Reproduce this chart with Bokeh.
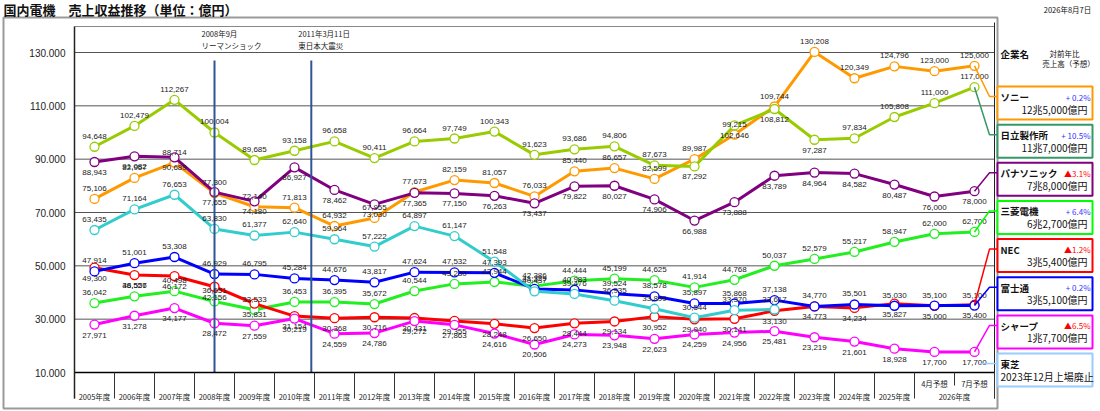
from bokeh.plotting import figure
from bokeh.models import Range1d, LinearAxis, FixedTicker, ColumnDataSource
from bokeh.core.properties import value
from bokeh.embed import file_html
from bokeh.resources import INLINE

# ---- data (億円) ----
categories = ["2005年度", "2006年度", "2007年度", "2008年度", "2009年度", "2010年度", "2011年度",
              "2012年度", "2013年度", "2014年度", "2015年度", "2016年度", "2017年度", "2018年度",
              "2019年度", "2020年度", "2021年度", "2022年度", "2023年度", "2024年度", "2025年度"]
forecast_labels = ["4月予想", "7月予想"]
forecast_year = "2026年度"

sony = [75106, 82957, 88714, 77300, 72140, 71813, 64932, 67955, 77673, 82159, 81057, 76033,
        85440, 86657, 82599, 89987, 99215, 109744, 130208, 120349, 124796, 123000, 125000]
hitachi = [94648, 102479, 112267, 100004, 89685, 93158, 96658, 90411, 96664, 97749, 100343, 91623,
           93686, 94806, 87673, 87292, 102646, 108812, 97287, 97834, 105808, 111000, 117000]
panasonic = [88943, 91082, 90689, 77655, 74180, 86927, 78462, 73030, 77365, 77150, 76263, 73437,
             79822, 80027, 74906, 66988, 73888, 83789, 84964, 84582, 80487, 76000, 78000]
mitsubishi = [36042, 38557, 40498, 36651, 33533, 36453, 36395, 35672, 40544, 43230, 43944, 42386,
              44444, 45199, 44625, 41914, 44768, 50037, 52579, 55217, 58947, 62000, 62700]
nec = [49300, 46526, 46172, 42156, 35831, 31154, 30368, 30716, 30431, 29355, 28248, 26650,
       28444, 29134, 30952, 29940, 30141, 33130, 34773, 34234, 35827, 35000, 35400]
fujitsu = [47914, 51001, 53308, 46929, 46795, 45284, 44676, 43817, 47624, 47532, 47393, 41329,
           40983, 39524, 38578, 35897, 35868, 37138, 34770, 35501, 35030, 35100, 35100]
sharp = [27971, 31278, 34177, 28472, 27559, 30219, 24559, 24786, 29272, 27863, 24616, 20506,
         24273, 23948, 22623, 24259, 24956, 25481, 23219, 21601, 18928, 17700, 17700]
toshiba = [63435, 71164, 76653, 63830, 61377, 62640, 59964, 57222, 64897, 61147, 51548, 40437,
           39476, 36935, 33899, 30544, 33370, 33617]

companies = ["ソニー", "日立製作所", "パナソニック", "三菱電機", "NEC", "富士通", "シャープ", "東芝"]
values = [sony, hitachi, panasonic, mitsubishi, nec, fujitsu, sharp, toshiba]
forecast_text = ["12兆5,000億円", "11兆7,000億円", "7兆8,000億円", "6兆2,700億円",
                 "3兆5,400億円", "3兆5,100億円", "1兆7,700億円", "2023年12月上場廃止"]
yoy_text = ["+ 0.2%", "+ 10.5%", "▲3.1%", "+ 6.4%", "▲1.2%", "+ 0.2%", "▲6.5%", ""]

y_ticks = [10000, 30000, 50000, 70000, 90000, 110000, 130000]
y_tick_labels = ["10.000", "30.000", "50.000", "70.000", "90.000", "110.000", "130.000"]

events_x = [3.0, 5.42]
events_text = [("2008年9月", "リーマンショック"), ("2011年3月11日", "東日本大震災")]

# ---- style ----
line_color = {"ソニー": "#FF9900", "日立製作所": "#99CC00", "パナソニック": "#800080",
              "三菱電機": "#22EE22", "NEC": "#FF0000", "富士通": "#0000FF",
              "シャープ": "#FF00FF", "東芝": "#33CCCC"}
box_color = {"ソニー": "#FF9900", "日立製作所": "#339966", "パナソニック": "#800080",
             "三菱電機": "#00FF00", "NEC": "#FF0000", "富士通": "#0000FF",
             "シャープ": "#FF00FF", "東芝": "#99CCFF"}
label_side = {"ソニー": -1, "日立製作所": -1, "パナソニック": 1, "三菱電機": -1,
              "NEC": 1, "富士通": -1, "シャープ": 1, "東芝": -1}
label_flip = {"日立製作所": [15, 16, 17, 18]}

JP = value("Noto Sans CJK JP")
NUM = value("Liberation Sans")

W, H = 1100, 411


def px_x(px):
    return (px - 94) / 40.0


def px_y(py):
    return 10000 + (372 - py) * 375.0


p = figure(width=W, height=H, x_range=Range1d(px_x(0), px_x(W)), y_range=Range1d(px_y(H), px_y(0)),
           x_axis_type=None, y_axis_type=None, toolbar_location=None, tools="",
           output_backend="svg", min_border=0)
p.outline_line_color = None
p.background_fill_color = "white"
p.border_fill_color = "white"

n_all = len(categories) + len(forecast_labels)
left, right = -0.5, n_all - 0.5
y_bottom_px = 398

# outer frame
p.quad(left=[px_x(3)], right=[px_x(997)], top=[px_y(17)], bottom=[px_y(408)],
       fill_color=None, line_color="#9a9a9a", line_width=2)

# grid lines and plot borders
p.segment(x0=left, x1=right, y0=y_ticks[1:], y1=y_ticks[1:], line_color="#555555", line_width=1)
p.segment(x0=[left], x1=[right], y0=[px_y(26)], y1=[px_y(26)], line_color="#888888", line_width=1)
p.segment(x0=[right], x1=[right], y0=[px_y(y_bottom_px)], y1=[px_y(22)], line_color="#222222",
          line_width=1)

# y axis
yaxis = LinearAxis(fixed_location=left, bounds=(px_y(y_bottom_px), px_y(26)),
                   ticker=FixedTicker(ticks=y_ticks),
                   major_label_overrides=dict(zip(y_ticks, y_tick_labels)),
                   major_tick_out=0, major_tick_in=0, minor_tick_out=0, minor_tick_in=0,
                   major_label_standoff=9, axis_line_color="#222222", axis_line_width=1.5,
                   major_label_text_font="Liberation Sans", major_label_text_font_size="10px",
                   major_label_text_color="#222222")
p.add_layout(yaxis, "left")

# x axis: separators
bounds_ticks = [i - 0.5 for i in range(len(categories) + 1)] + [right]
sep = LinearAxis(fixed_location=y_ticks[0], bounds=(left, right),
                 ticker=FixedTicker(ticks=bounds_ticks, minor_ticks=[len(categories) + 0.5]),
                 major_tick_out=26, major_tick_in=0, minor_tick_out=13, minor_tick_in=0,
                 major_tick_line_color="#333333", minor_tick_line_color="#333333",
                 axis_line_color="#000000", axis_line_width=1.5, major_label_text_color=None)
p.add_layout(sep, "below")

fc_ticks = [len(categories) + i for i in range(len(forecast_labels))]
fc_axis = LinearAxis(fixed_location=y_ticks[0], ticker=FixedTicker(ticks=fc_ticks),
                     major_label_overrides=dict(zip(fc_ticks, forecast_labels)),
                     major_tick_out=0, major_tick_in=0, minor_tick_out=0, minor_tick_in=0,
                     axis_line_color=None, major_label_standoff=5,
                     major_label_text_font="Noto Sans CJK JP", major_label_text_font_size="7.5px",
                     major_label_text_color="#222222")
p.add_layout(fc_axis, "below")

yr_ticks = list(range(len(categories))) + [sum(fc_ticks) / len(fc_ticks)]
yr_axis = LinearAxis(fixed_location=y_ticks[0], ticker=FixedTicker(ticks=yr_ticks),
                     major_label_overrides=dict(zip(yr_ticks, categories + [forecast_year])),
                     major_tick_out=0, major_tick_in=0, minor_tick_out=0, minor_tick_in=0,
                     axis_line_color=None, major_label_standoff=18,
                     major_label_text_font="Noto Sans CJK JP", major_label_text_font_size="7.5px",
                     major_label_text_color="#222222")
p.add_layout(yr_axis, "below")

# series
label_sources = []
for name, vals in zip(companies, values):
    xs = list(range(len(vals)))
    col = line_color[name]
    p.line(xs, vals, line_color=col, line_width=3)
    p.scatter(xs, vals, marker="circle", size=9, fill_color="white", line_color=col, line_width=1.3)
    dys = []
    for i in xs:
        side = label_side[name]
        if i in label_flip.get(name, []):
            side = -side
        dys.append(10.5 * side)
    label_sources.append(ColumnDataSource(dict(x=xs, y=vals, t=[f"{v:,}" for v in vals], dy=dys)))

# events
p.segment(x0=events_x, x1=events_x, y0=y_ticks[0], y1=px_y(60), line_color="#2F5597", line_width=2)
for ex, (t1, t2) in zip(events_x, events_text):
    p.text(x=[ex], y=[px_y(33)], text=[t1], x_offset=-13, text_font=JP, text_font_size="7.5px",
           text_baseline="middle", text_color="#222222")
    p.text(x=[ex], y=[px_y(45)], text=[t2], x_offset=-13, text_font=JP, text_font_size="7.5px",
           text_baseline="middle", text_color="#222222")

# data labels
for src in label_sources:
    p.text(x="x", y="y", text="t", y_offset="dy", source=src, text_font=NUM, text_font_size="8px",
           text_align="center", text_baseline="middle", text_color="#1a1a1a")

# connectors and legend boxes
box_top0, box_pitch, box_h = 86, 38.15, 33
box_l, box_r = 997, 1092
for k, name in enumerate(companies):
    top = box_top0 + k * box_pitch
    cy = top + 10
    vals = values[k]
    if len(vals) == n_all:
        cx = [n_all - 1, px_x(989), px_x(box_l)]
        cys = [vals[-1], px_y(cy), px_y(cy)]
    else:
        cx = [px_x(980), px_x(box_l)]
        cys = [px_y(cy), px_y(cy)]
    p.line(cx, cys, line_color=box_color[name], line_width=1.5)
    p.quad(left=[px_x(box_l)], right=[px_x(box_r)], top=[px_y(top)], bottom=[px_y(top + box_h)],
           fill_color="white", line_color=box_color[name], line_width=2)
    p.text(x=[px_x(1000)], y=[px_y(top + 10.5)], text=[name], text_font=JP, text_font_size="9.5px",
           text_font_style="bold", text_baseline="middle", text_color="#111111")
    if len(vals) == n_all:
        p.text(x=[px_x(1087)], y=[px_y(top + 22.5)], text=[forecast_text[k]], text_font=JP,
               text_font_size="10px", text_align="right", text_baseline="middle", text_color="#111111")
        pc = "#FF0000" if yoy_text[k].startswith("▲") else "#3333FF"
        p.text(x=[px_x(1090)], y=[px_y(top + 10.5)], text=[yoy_text[k]], text_font=JP,
               text_font_size="8px", text_align="right", text_baseline="middle", text_color=pc)
    else:
        p.text(x=[px_x(1000)], y=[px_y(top + 22.5)], text=[forecast_text[k]], text_font=JP,
               text_font_size="10px", text_baseline="middle", text_color="#111111")

# header texts
p.text(x=[px_x(1000)], y=[px_y(53)], text=["企業名"], text_font=JP, text_font_size="9.5px",
       text_font_style="bold", text_baseline="middle", text_color="#111111")
p.text(x=[px_x(1064)], y=[px_y(53)], text=["対前年比"], text_font=JP, text_font_size="7.5px",
       text_align="center", text_baseline="middle", text_color="#111111")
p.text(x=[px_x(1068)], y=[px_y(63)], text=["売上高（予想）"], text_font=JP, text_font_size="7.5px",
       text_align="center", text_baseline="middle", text_color="#111111")

# title and date
p.text(x=[px_x(3)], y=[px_y(9)], text=["国内電機　売上収益推移（単位：億円）"], text_font=JP,
       text_font_size="13px", text_font_style="bold", text_baseline="middle", text_color="#111111")
p.text(x=[px_x(1067)], y=[px_y(9)], text=["2026年8月7日"], text_font=JP, text_font_size="7.5px",
       text_align="center", text_baseline="middle", text_color="#111111")

open("out.html", "w").write(file_html(p, INLINE))
